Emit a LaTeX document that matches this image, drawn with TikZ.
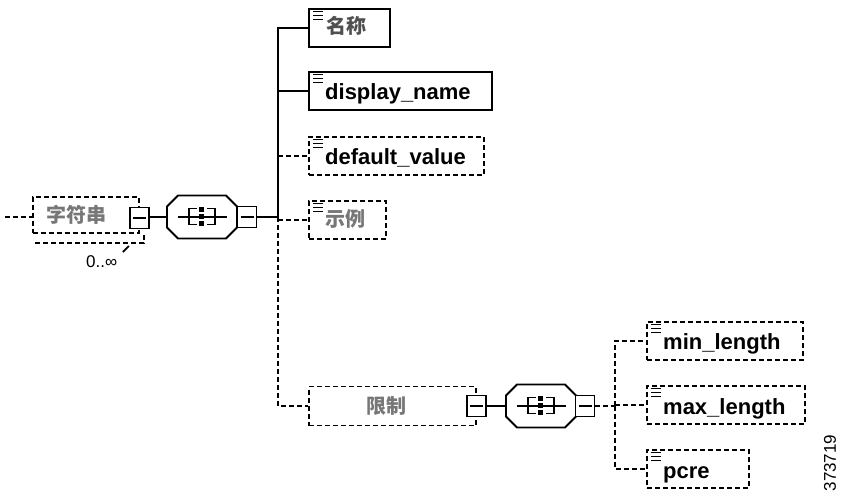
\documentclass[tikz,border=0pt]{standalone}
\usepackage{fontspec}
\setmainfont{Liberation Sans}
\newfontfamily\cjk{Noto Sans CJK SC}
\usetikzlibrary{calc}
\definecolor{cjkdark}{HTML}{505050}
\definecolor{cjkgray}{HTML}{777777}
\tikzset{
  lw/.style={line width=1.9pt},
  dsh/.style={dash pattern=on 5pt off 3pt},
  elem/.style={draw, lw, rectangle, anchor=west, inner sep=0pt, minimum height=38pt},
  optelem/.style={elem, dsh},
  collapse/.style={draw, lw, fill=white, rectangle, minimum width=19pt, minimum height=21pt, inner sep=0pt,
    path picture={\draw[lw] ([xshift=3pt]path picture bounding box.west) -- ([xshift=-3pt]path picture bounding box.east);}},
  seqnode/.style={rectangle, minimum width=70pt, minimum height=43pt, inner sep=0pt},
  lbl/.style={inner sep=0pt, anchor=base west, font=\fontsize{22}{24}\selectfont\bfseries},
  cjklbl/.style={inner sep=0pt, anchor=base west, font=\fontsize{20}{22}\selectfont\cjk\bfseries},
  icon/.style={line width=1.6pt},
}
\newcommand\seqshape[1]{%
  \begin{scope}[shift={(#1.center)}]
    \draw[lw] (-24,-21.5) -- (24,-21.5) -- (35,-10.5) -- (35,10.5) -- (24,21.5) -- (-24,21.5) -- (-35,10.5) -- (-35,-10.5) -- cycle;
    \draw[lw] (-24,0) -- (25,0);
    \draw[lw] (-5,-8.5) -- (-13,-8.5) -- (-13,7.5) -- (-5,7.5);
    \draw[lw] (5,-8.5) -- (13,-8.5) -- (13,7.5) -- (5,7.5);
    \fill (-3.5,-10) rectangle (1.5,-5);
    \fill (-3.5,-3) rectangle (1.5,2);
    \fill (-3.5,4) rectangle (1.5,9);
  \end{scope}}
\newcommand\elemicon[1]{%
  \draw[icon] ($(#1.north west)+(5,3.5)$) -- +(10,0);
  \draw[icon] ($(#1.north west)+(5,7.5)$) -- +(10,0);
  \draw[icon] ($(#1.north west)+(5,11.5)$) -- +(10,0);}
\begin{document}
\begin{tikzpicture}[x=1pt,y=-1pt]
\useasboundingbox (0,0) rectangle (843,502);

% root element
\node[optelem, minimum width=106pt, minimum height=36pt] (str) at (32,215) {};
\node[cjklbl, text=cjkgray] (strt) at (46,223) {字符串};
\draw[lw,dsh] ($(str.south west)+(3,9)$) -- ($(str.south east)+(4,9)$) -- ($(str.south east)+(4,1)$);
\coordinate (in) at (5,217);
\draw[lw,dsh] (in) -- (in -| str.west);
\node[collapse] (strc) at (str.east |- 0,218) {};
\draw[lw] ($(str.south east)+(-11,12)$) -- +(-6,6);
\node[inner sep=0pt, anchor=base west, font=\fontsize{17}{20}\selectfont] (mult) at (86,268) {0..∞};

% first sequence
\node[seqnode] (seq1) at (202,217) {};
\seqshape{seq1}
\node[collapse] (seq1c) at (247,217) {};
\draw[lw] (strc.east |- seq1) -- (seq1.west);
\coordinate (t1) at (278,217);
\draw[lw] (seq1c.east |- t1) -- (t1);

% children
\node[elem, minimum width=81pt] (name) at (308,28) {};
\node[cjklbl, text=cjkdark] (namet) at (326,34) {名称};
\node[elem, minimum width=183pt] (disp) at (308,91) {};
\node[lbl] (dispt) at (325,100) {display\_name};
\node[optelem, minimum width=175pt] (defv) at (308,156) {};
\node[lbl] (defvt) at (325,165) {default\_value};
\node[optelem, minimum width=77pt] (ex) at (308,220) {};
\node[cjklbl, text=cjkgray] (ext) at (325,227) {示例};
\node[optelem, minimum width=167pt, minimum height=39pt] (restr) at (308,406) {};
\node[cjklbl, text=cjkgray] (restrt) at (366,413) {限制};
\foreach \n in {name,disp,defv,ex} {\elemicon{\n}}

\draw[lw] (t1) |- (name.west);
\draw[lw] (t1 |- disp.west) -- (disp.west);
\draw[lw,dsh] (t1 |- defv.west) -- (defv.west);
\draw[lw,dsh] (t1 |- ex.west) -- (ex.west);
\draw[lw,dsh] (t1) |- (restr.west);

% second sequence
\node[collapse] (restrc) at (restr.east) {};
\node[seqnode] (seq2) at (541,406) {};
\seqshape{seq2}
\node[collapse] (seq2c) at (585,406) {};
\draw[lw] (restrc.east) -- (seq2.west);
\coordinate (t2) at (615,406);
\draw[lw,dsh] (seq2c.east) -- (t2);

\node[optelem, minimum width=156pt] (minl) at (646,341) {};
\node[lbl] (minlt) at (663,350) {min\_length};
\node[optelem, minimum width=158pt] (maxl) at (646,405) {};
\node[lbl] (maxlt) at (663,414) {max\_length};
\node[optelem, minimum width=102pt] (pcre) at (646,469) {};
\node[lbl] (pcret) at (663,478) {pcre};
\foreach \n in {minl,maxl,pcre} {\elemicon{\n}}

\draw[lw,dsh] (t2) |- (minl.west);
\draw[lw,dsh] (t2) |- (pcre.west);
\draw[lw,dsh] (t2 |- maxl.west) -- (maxl.west);

\node[rotate=90, inner sep=0pt, font=\fontsize{17}{20}\selectfont] (fig) at (830,463) {373719};
\end{tikzpicture}
\end{document}
